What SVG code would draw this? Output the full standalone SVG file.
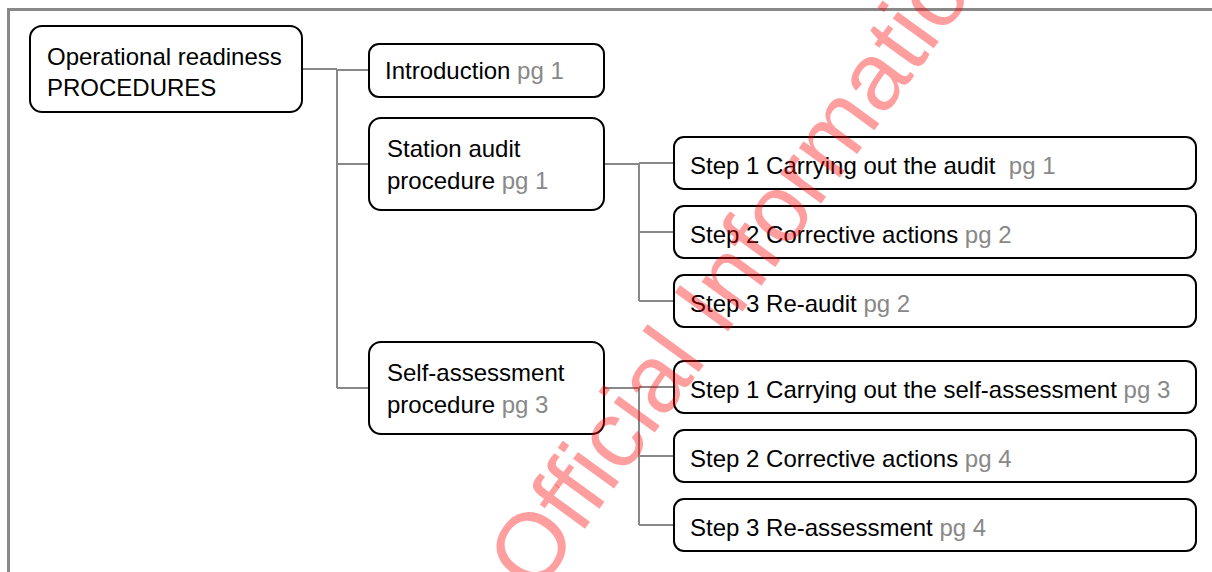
<svg xmlns="http://www.w3.org/2000/svg" width="1212" height="572" viewBox="0 0 1212 572">
<style>
.box{fill:#fff;stroke:#000;stroke-width:2}
.t{font-family:"Liberation Sans",Arial,sans-serif;font-size:24px;fill:#000}
.pg{fill:#888}
.conn{fill:none;stroke:#888;stroke-width:2}
.frame{fill:none;stroke:#888;stroke-width:3}
.wm{font-family:"Liberation Sans",Arial,sans-serif;font-size:96px;fill:#ff0000;fill-opacity:0.38}
</style>
<rect width="1212" height="572" fill="#fff"/>
<path class="frame" d="M8.5,572 V9.5 H1212"/>
<g id="connectors">
<path class="conn" d="M302,69 H337 M337,69 V388 M337,70 H369 M337,164 H369 M337,388 H369"/>
<path class="conn" d="M604,164 H639 M639,164 V301 M639,163 H674 M639,232 H674 M639,301 H674"/>
<path class="conn" d="M604,388 H639 M639,388 V525 M639,387 H674 M639,456 H674 M639,525 H674"/>
</g>
<g id="root">
<rect class="box" x="30" y="26" width="272" height="86" rx="12"/>
<text class="t" x="47" y="65">Operational readiness</text>
<text class="t" x="47" y="96">PROCEDURES</text>
</g>
<g id="intro">
<rect class="box" x="369" y="44" width="235" height="53" rx="10"/>
<text class="t" x="385" y="79">Introduction <tspan class="pg">pg 1</tspan></text>
</g>
<g id="station">
<rect class="box" x="369" y="118" width="235" height="92" rx="12"/>
<text class="t" x="387" y="157">Station audit</text>
<text class="t" x="387" y="189">procedure <tspan class="pg">pg 1</tspan></text>
</g>
<g id="self">
<rect class="box" x="369" y="342" width="235" height="92" rx="12"/>
<text class="t" x="387" y="381">Self-assessment</text>
<text class="t" x="387" y="413">procedure <tspan class="pg">pg 3</tspan></text>
</g>
<g id="s1">
<rect class="box" x="674" y="137" width="522" height="52" rx="10"/>
<text class="t" x="690" y="174">Step 1 Carrying out the audit&#160; <tspan class="pg">pg 1</tspan></text>
</g>
<g id="s2">
<rect class="box" x="674" y="206" width="522" height="52" rx="10"/>
<text class="t" x="690" y="243">Step 2 Corrective actions <tspan class="pg">pg 2</tspan></text>
</g>
<g id="s3">
<rect class="box" x="674" y="275" width="522" height="52" rx="10"/>
<text class="t" x="690" y="312">Step 3 Re-audit <tspan class="pg">pg 2</tspan></text>
</g>
<g id="sa1">
<rect class="box" x="674" y="361" width="522" height="52" rx="10"/>
<text class="t" x="690" y="398">Step 1 Carrying out the self-assessment <tspan class="pg">pg 3</tspan></text>
</g>
<g id="sa2">
<rect class="box" x="674" y="430" width="522" height="52" rx="10"/>
<text class="t" x="690" y="467">Step 2 Corrective actions <tspan class="pg">pg 4</tspan></text>
</g>
<g id="sa3">
<rect class="box" x="674" y="499" width="522" height="52" rx="10"/>
<text class="t" x="690" y="536">Step 3 Re-assessment <tspan class="pg">pg 4</tspan></text>
</g>
<text class="wm" transform="translate(536,596) rotate(-54)">Official Information</text>
</svg>
